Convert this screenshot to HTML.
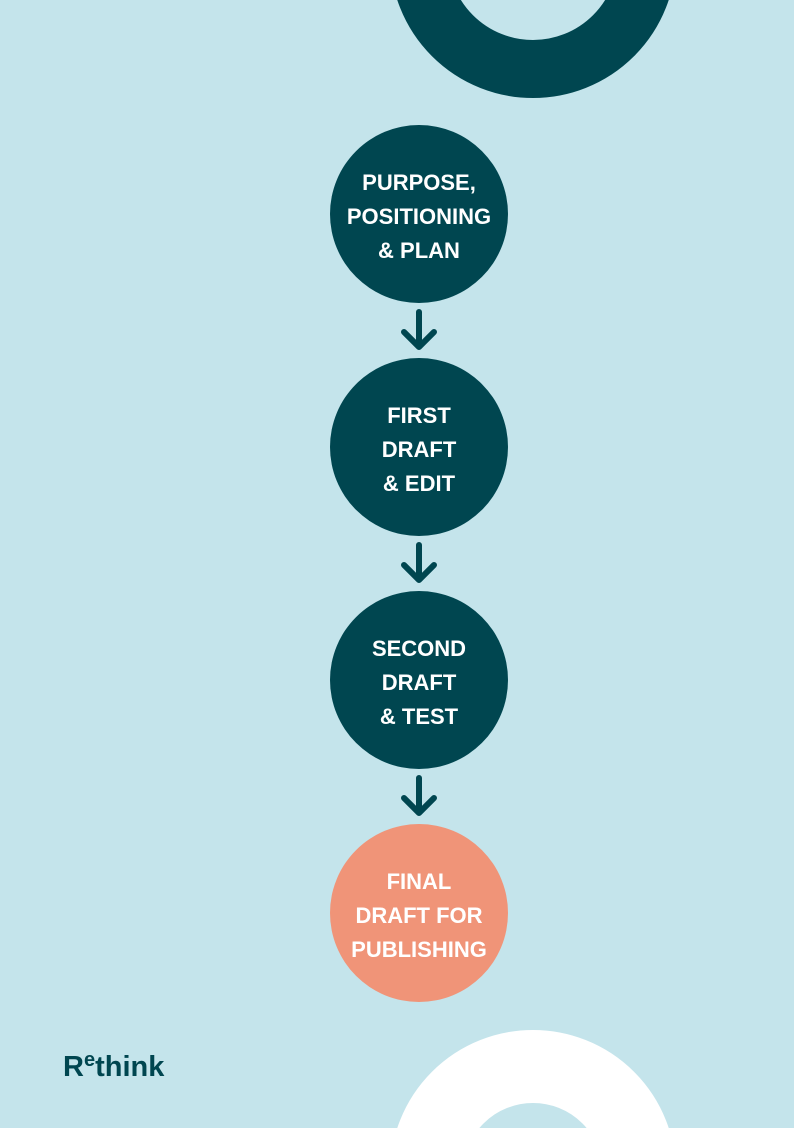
<!DOCTYPE html>
<html><head><style>
html,body{margin:0;width:794px;height:1128px;overflow:hidden}
body{background:#c4e4eb;position:relative;font-family:"Liberation Sans",sans-serif}
.c{position:absolute;left:330px;width:178px;height:178px;border-radius:50%;background:#004650;color:#fff;font-weight:bold;font-size:22px;line-height:34px;display:flex;align-items:center;justify-content:center;text-align:center;padding-top:6px;box-sizing:border-box}
svg{position:absolute;left:0;top:0}
.logo{position:absolute;left:63px;top:1050px;font-size:29px;font-weight:bold;color:#004650;line-height:34px}
</style></head><body>
<svg width="794" height="1128">
<circle cx="533" cy="-45" r="114" fill="none" stroke="#004650" stroke-width="58"/>
<circle cx="533" cy="1173" r="106.5" fill="none" stroke="#fff" stroke-width="73"/>
<g stroke="#004650" stroke-width="6" fill="none" stroke-linecap="round" stroke-linejoin="round">
<path d="M419 312V347M404 332L419 347L434 332"/>
<path d="M419 545V580M404 565L419 580L434 565"/>
<path d="M419 778V813M404 798L419 813L434 798"/>
</g>
</svg>
<div class="c" style="top:125px">PURPOSE,<br>POSITIONING<br>&amp; PLAN</div>
<div class="c" style="top:358px">FIRST<br>DRAFT<br>&amp; EDIT</div>
<div class="c" style="top:591px">SECOND<br>DRAFT<br>&amp; TEST</div>
<div class="c" style="top:824px;background:#f09478">FINAL<br>DRAFT FOR<br>PUBLISHING</div>
<div class="logo">R<span style="font-size:20px;position:relative;top:-10px">e</span>think</div>
</body></html>
